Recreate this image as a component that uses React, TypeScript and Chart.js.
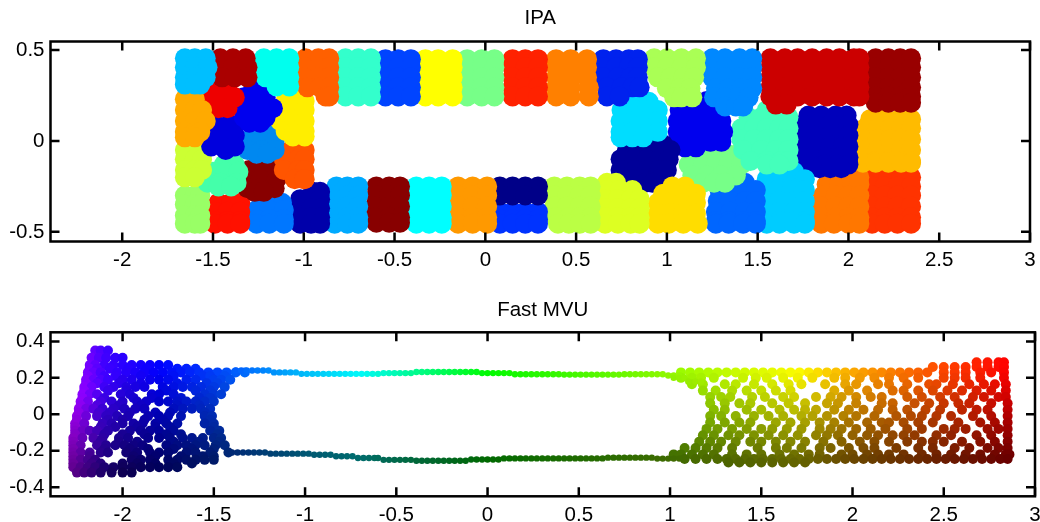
import React, { useEffect, useRef } from "react";
import { Chart, registerables } from "chart.js";

Chart.register(...registerables);

type Rows = number[][]; // each row: y, then the x values read at that y

const FONT = "'Liberation Sans', Arial, sans-serif";
const xTicks = [-2, -1.5, -1, -0.5, 0, 0.5, 1, 1.5, 2, 2.5, 3];
const ipaYTicks = [-0.5, 0, 0.5];
const mvuYTicks = [-0.4, -0.2, 0, 0.2, 0.4];

// IPA: one list per coloured cluster
const cA: Rows = [[.455,-1.655,-1.6,-1.54],[.405,-1.655,-1.6,-1.53],[.35,-1.655,-1.6,-1.54],[.31,-1.655,-1.6,-1.57]];
const cB: Rows = [[.455,-1.46,-1.39,-1.32],[.405,-1.46,-1.39,-1.31],[.35,-1.45,-1.38,-1.31]];
const cC: Rows = [[.455,-1.22,-1.15,-1.08],[.405,-1.22,-1.15,-1.08],[.35,-1.21,-1.15,-1.08],[.3,-1.15,-1.08]];
const cD: Rows = [[.455,-.99,-.92,-.86],[.405,-.99,-.92,-.86],[.35,-1,-.92,-.86],[.295,-.98,-.91,-.86],[.245,-.88,-.86]];
const cE: Rows = [[.455,-.77,-.7,-.63],[.405,-.77,-.7,-.63],[.35,-.77,-.7,-.63],[.295,-.77,-.7,-.63],[.245,-.77,-.7,-.63]];
const cF: Rows = [[.45,-.55,-.48,-.41],[.405,-.55,-.48,-.41],[.35,-.55,-.48,-.41],[.295,-.55,-.48,-.41],[.245,-.55,-.48,-.41]];
const cG: Rows = [[.45,-.33,-.26,-.18],[.405,-.33,-.26,-.18],[.35,-.33,-.26,-.18],[.295,-.33,-.26,-.18],[.245,-.33,-.26,-.18]];
const cH: Rows = [[.45,-.1,-.02,.05],[.405,-.1,-.02,.05],[.35,-.1,-.02,.05],[.295,-.1,-.02,.05],[.245,-.1,-.02,.05]];
const cI: Rows = [[.45,.15,.22,.29],[.405,.15,.22,.29],[.35,.15,.22,.29],[.295,.15,.22,.29],[.245,.15,.22,.29]];
const cJ: Rows = [[.45,.39,.47,.56],[.405,.39,.47,.56],[.35,.39,.47,.56],[.295,.39,.47,.57],[.245,.39,.47,.57]];
const cK: Rows = [[.45,.65,.72,.79,.84],[.405,.65,.72,.79,.84],[.35,.65,.73,.8,.84],[.295,.67,.75,.81,.85],[.245,.67,.74]];
const cL: Rows = [[.455,.93,1,1.08,1.16],[.405,.93,1,1.08,1.16],[.35,.95,1.02,1.09,1.15],[.29,1,1.07,1.13],[.24,1.04,1.08,1.14]];
const cM: Rows = [[.455,1.25,1.32,1.4,1.47],[.405,1.25,1.32,1.4,1.47],[.35,1.25,1.32,1.4,1.47],[.29,1.27,1.34,1.41,1.47],[.24,1.26,1.32,1.39,1.45],[.19,1.32,1.38,1.42]];
const cN: Rows = [[.455,1.57,1.65,1.72,1.8,1.88,1.95,2.03,2.06],[.405,1.57,1.65,1.72,1.8,1.88,1.95,2.03,2.06],[.35,1.57,1.65,1.72,1.8,1.88,1.95,2.03,2.06],[.295,1.57,1.65,1.72,1.8,1.88,1.95,2.03,2.06],[.245,1.57,1.65,1.72,1.8,1.88,1.95,2.03,2.06],[.2,1.6,1.66]];
const cO: Rows = [[.455,2.15,2.22,2.285,2.345],[.405,2.15,2.22,2.285,2.345],[.35,2.15,2.22,2.285,2.345],[.295,2.15,2.22,2.285,2.345],[.245,2.15,2.22,2.285,2.345],[.21,2.15,2.22,2.285,2.345]];
const cP: Rows = [[.23,-1.655,-1.6],[.17,-1.655,-1.6,-1.56],[.11,-1.655,-1.6,-1.54],[.05,-1.655,-1.6,-1.57],[.02,-1.655,-1.6]];
const cQ: Rows = [[.29,-1.5,-1.44,-1.42],[.24,-1.56,-1.49,-1.43,-1.38],[.18,-1.54,-1.47,-1.42]];
const cR: Rows = [[.28,-1.28,-1.23],[.24,-1.33,-1.27,-1.21],[.18,-1.34,-1.27,-1.2,-1.17],[.13,-1.33,-1.26,-1.21],[.1,-1.3,-1.24]];
const cS: Rows = [[.22,-1.1,-1.03,-.995],[.17,-1.12,-1.05,-.995],[.11,-1.13,-1.05,-.995],[.055,-1.1,-1.05,-.995],[.025,-1.06,-.995]];
const cT: Rows = [[.085,-1.48,-1.42,-1.38],[.03,-1.53,-1.45,-1.38],[-.03,-1.51,-1.45,-1.38],[-.05,-1.43]];
const cU: Rows = [[.05,-1.27,-1.2],[0,-1.32,-1.23,-1.16],[-.05,-1.31,-1.23,-1.16],[-.07,-1.26,-1.2]];
const cV: Rows = [[-.05,-1.07,-1,-.995],[-.1,-1.11,-1.03,-.995],[-.16,-1.11,-1.03,-.995],[-.21,-1.05,-1,-.995]];
const cW: Rows = [[-.05,-1.655,-1.6],[-.1,-1.655,-1.6,-1.56],[-.16,-1.655,-1.6,-1.56],[-.2,-1.655,-1.6]];
const cX: Rows = [[-.13,-1.44,-1.38],[-.17,-1.5,-1.43,-1.36],[-.23,-1.53,-1.46,-1.37],[-.25,-1.47,-1.4]];
const cY: Rows = [[-.16,-1.3,-1.22,-1.15],[-.21,-1.32,-1.24,-1.15],[-.26,-1.31,-1.24,-1.16],[-.28,-1.27,-1.22]];
const cZ: Rows = [[-.3,-1.655,-1.6,-1.57],[-.35,-1.655,-1.6,-1.57],[-.41,-1.655,-1.6,-1.57],[-.455,-1.655,-1.6,-1.57]];
const cAA: Rows = [[-.34,-1.47,-1.4,-1.35],[-.39,-1.49,-1.42,-1.35],[-.44,-1.49,-1.42,-1.35],[-.455,-1.49,-1.42,-1.35]];
const cAB: Rows = [[-.34,-1.23,-1.18,-1.12],[-.38,-1.26,-1.19,-1.11],[-.43,-1.26,-1.19,-1.11],[-.455,-1.26,-1.19,-1.11]];
const cAC: Rows = [[-.28,-.95,-.91],[-.32,-1.02,-.96,-.91],[-.37,-1.03,-.96,-.91],[-.42,-1.03,-.96,-.91],[-.455,-1.02,-.96,-.91]];
const cAD: Rows = [[-.25,-.82,-.76,-.7],[-.3,-.83,-.76,-.7],[-.36,-.83,-.76,-.7],[-.42,-.83,-.76,-.7],[-.455,-.83,-.76,-.7]];
const cAE: Rows = [[-.25,-.6,-.53,-.47],[-.3,-.6,-.53,-.47],[-.36,-.61,-.53,-.47],[-.42,-.61,-.53,-.47],[-.45,-.6,-.53,-.47]];
const cAF: Rows = [[-.25,-.38,-.31,-.24],[-.3,-.38,-.31,-.24],[-.36,-.38,-.31,-.24],[-.42,-.38,-.31,-.24],[-.455,-.38,-.31,-.24]];
const cAG: Rows = [[-.25,-.15,-.07,.01],[-.3,-.15,-.07,.01],[-.36,-.15,-.07,.01],[-.42,-.15,-.07,.01],[-.455,-.15,-.07,.01]];
const cAH: Rows = [[-.25,.08,.15,.22,.29],[-.3,.08,.15,.22,.29]];
const cAI: Rows = [[-.39,.08,.15,.22,.29],[-.43,.08,.15,.22,.29],[-.455,.08,.15,.22,.29]];
const cAJ: Rows = [[-.25,.38,.45,.52,.58],[-.3,.38,.45,.52,.58],[-.36,.38,.45,.52,.58],[-.42,.39,.46,.52,.58],[-.455,.4,.46,.52,.58]];
const cAK: Rows = [[-.23,.67,.72],[-.27,.67,.74,.81],[-.32,.66,.73,.8,.85],[-.37,.66,.73,.8,.85],[-.42,.66,.73,.8,.85],[-.455,.66,.73,.8,.85]];
const cAL: Rows = [[-.25,1.03,1.1],[-.29,.98,1.04,1.11,1.16],[-.34,.95,1.01,1.09,1.16],[-.4,.95,1.01,1.09,1.16],[-.455,.95,1.01,1.09,1.17]];
const cAM: Rows = [[.215,.84,.9],[.17,.75,.82,.89,.95],[.11,.745,.81,.88,.95],[.05,.745,.81,.88,.95],[.02,.745,.81,.87]];
const cAN: Rows = [[-.02,.93,.98],[-.05,.78,.85,.92,.99,1.02],[-.1,.745,.82,.89,.96,1.01],[-.16,.745,.82,.89,.96,1],[-.21,.8,.87,.94],[-.23,.88,.92]];
const cAO: Rows = [[.22,1.16,1.22],[.17,1.07,1.14,1.21,1.28],[.11,1.06,1.12,1.2,1.27,1.3],[.05,1.06,1.12,1.2,1.27,1.31],[-.005,1.06,1.11,1.18,1.24,1.3],[-.035,1.1,1.16]];
const cAP: Rows = [[.17,1.55,1.6],[.13,1.45,1.52,1.6,1.67],[.07,1.41,1.48,1.55,1.62,1.67],[.01,1.41,1.48,1.55,1.62,1.67],[-.05,1.42,1.52,1.6,1.67],[-.11,1.46,1.55,1.63,1.67],[-.13,1.55,1.62]];
const cAQ: Rows = [[-.03,1.2,1.26,1.3],[-.07,1.14,1.18,1.25,1.33,1.39],[-.13,1.12,1.2,1.27,1.34,1.41],[-.19,1.14,1.22,1.3,1.38],[-.23,1.2,1.26,1.32]];
const cAR: Rows = [[-.23,1.32,1.38,1.43],[-.27,1.29,1.37,1.44,1.49],[-.33,1.28,1.35,1.43,1.49],[-.39,1.27,1.35,1.43,1.49],[-.44,1.27,1.34,1.42,1.49],[-.455,1.27,1.34,1.42,1.49]];
const cAS: Rows = [[-.17,1.58,1.63,1.7],[-.21,1.55,1.62,1.7,1.76],[-.27,1.54,1.61,1.69,1.76],[-.33,1.54,1.62,1.7,1.76],[-.39,1.55,1.62,1.7,1.76],[-.44,1.55,1.62,1.7,1.76],[-.455,1.55,1.62,1.7,1.76]];
const cAT: Rows = [[.14,1.78,1.85,1.93,1.99],[.09,1.75,1.82,1.9,1.97,2],[.03,1.75,1.82,1.9,1.97,2],[-.03,1.75,1.82,1.9,1.97,2],[-.09,1.74,1.8,1.88,1.95,2],[-.13,1.78,1.87,1.94,2],[-.15,1.84,1.9,1.96]];
const cAU: Rows = [[.12,2.12,2.2,2.28,2.345],[.07,2.09,2.16,2.23,2.29,2.345],[.01,2.09,2.16,2.23,2.29,2.345],[-.05,2.09,2.16,2.23,2.29,2.345],[-.11,2.08,2.15,2.22,2.29,2.345],[-.12,2.08,2.15,2.22,2.29,2.345]];
const cAV: Rows = [[-.2,1.94,2,2.06],[-.24,1.88,1.95,2.02,2.06],[-.3,1.86,1.93,2,2.06],[-.36,1.85,1.93,2,2.06],[-.42,1.85,1.93,2,2.06],[-.455,1.85,1.92,2,2.06]];
const cAW: Rows = [[-.2,2.14,2.22,2.29,2.345],[-.25,2.13,2.2,2.27,2.345],[-.3,2.13,2.2,2.27,2.345],[-.36,2.13,2.2,2.27,2.345],[-.42,2.13,2.2,2.27,2.345],[-.455,2.13,2.2,2.27,2.345]];

const ipaClusters: Rows[] = [cA,cB,cC,cD,cE,cF,cG,cH,cI,cJ,cK,cL,cM,cN,cO,cP,cQ,cR,cS,cT,cU,cV,cW,cX,cY,cZ,cAA,cAB,cAC,cAD,cAE,cAF,cAG,cAH,cAI,cAJ,cAK,cAL,cAM,cAN,cAO,cAP,cAQ,cAR,cAS,cAT,cAU,cAV,cAW];
const ipaColors = ["#00bfff","#aa0000","#00ffee","#ff6000","#33ffcc","#0044ff","#ffff00","#77ff88","#ff2200","#ff8000","#0022ee","#aaff55","#0088ff","#cc0000","#990000","#ffaa00","#ee0000","#0000ee","#ffee00","#0000dd","#0088f0","#ff5500","#ccff33","#44ffaa","#880000","#99ff66","#ff1100","#0077ff","#0000aa","#00aaff","#880000","#00ffff","#ff9900","#000088","#0033ff","#bbff44","#ddff22","#ffdd00","#00ddff","#000099","#0000ee","#44ffbb","#77ff88","#0066ff","#00ccff","#0000bb","#ffbb00","#ff7700","#ff3300"];

// Fast MVU
const mvuTopStrip: Rows = [
  [.24,-1.38,-1.35,-1.32,-1.29,-1.26,-1.23,-1.2],
  [.23,-1.17,-1.14,-1.11,-1.08,-1.05],
  [.222,-1.02,-.99,-.96,-.93,-.9,-.87,-.84,-.81,-.78,-.75,-.72,-.69,-.66,-.63,-.6],
  [.226,-.57,-.54,-.51,-.48,-.45,-.42],
  [.232,-.39,-.36,-.33,-.3,-.27,-.24,-.21,-.18,-.15,-.12,-.09,-.06],
  [.226,-.03,0,.03,.06,.09,.12],
  [.22,.15,.18,.21,.24,.27,.3,.33,.36,.39],
  [.218,.42,.45,.48,.51,.54,.57,.6,.63,.66,.69,.72],
  [.22,.75,.78,.81,.84,.87,.9,.93,.96],
  [.213,.99,1.02,1.05],
  [.2,1.02,1.05,1.08],
  [.18,1.1,1.14,1.17],
];
const mvuBottomStrip: Rows = [
  [-.21,-1.4,-1.37,-1.34,-1.31,-1.28,-1.25,-1.22],
  [-.216,-1.19,-1.16,-1.13,-1.1,-1.07,-1.04,-1.01,-.98],
  [-.222,-.95,-.92,-.89,-.86],
  [-.23,-.83,-.8,-.77,-.74],
  [-.24,-.71,-.68,-.65,-.62,-.6],
  [-.25,-.57,-.54,-.51,-.48,-.45,-.42],
  [-.255,-.39,-.36,-.33,-.3,-.27,-.24,-.21,-.18,-.15,-.12],
  [-.248,-.09,-.06,-.03,0,.03,.06],
  [-.242,.09,.12,.15,.18,.21,.24,.27,.3,.33,.36,.39,.42,.45,.48,.51,.54,.57,.6,.63],
  [-.238,.66,.69,.72,.75,.78,.81,.84,.87,.9],
  [-.243,.93,.96,.99,1.02,1.05],
];
const mvuLeftBody: Rows = [
  [.35,-2.15,-2.12,-2.08],
  [.31,-2.17,-2.13,-2.09,-2.04,-2],
  [.27,-2.18,-2.15,-2.1,-2.05,-2,-1.95,-1.9,-1.85,-1.8,-1.75],
  [.25,-2.18,-2.14,-2.07,-1.97,-1.87,-1.7,-1.65,-1.6],
  [.23,-2.19,-2.16,-2.12,-2.03,-1.98,-1.93,-1.88,-1.83,-1.78,-1.73,-1.68,-1.63,-1.58,-1.53,-1.48,-1.43,-1.38,-1.33],
  [.21,-2.19,-2.1,-2.04,-1.9,-1.72,-1.56,-1.52,-1.44],
  [.19,-2.2,-2.16,-2.12,-2.08,-2,-1.95,-1.85,-1.8,-1.75,-1.65,-1.6,-1.5,-1.46,-1.41],
  [.17,-2.2,-2.14,-2.02,-1.9,-1.7,-1.54,-1.48],
  [.15,-2.21,-2.17,-2.1,-2.05,-1.98,-1.93,-1.88,-1.78,-1.72,-1.67,-1.62,-1.57,-1.5,-1.44],
  [.13,-2.21,-2.08,-1.98,-1.76,-1.6,-1.52],
  [.11,-2.22,-2.18,-2.14,-2.01,-1.96,-1.84,-1.8,-1.72,-1.55,-1.5,-1.46],
  [.09,-2.22,-2.1,-1.94,-1.84,-1.68,-1.58,-1.52],
  [.07,-2.23,-2.19,-2.12,-2.06,-2,-1.92,-1.87,-1.8,-1.75,-1.7,-1.65,-1.6,-1.55,-1.5],
  [.05,-2.23,-2.14,-2.02,-1.9,-1.7,-1.58],
  [.03,-2.24,-2.2,-2.16,-2.11,-2.05,-1.99,-1.93,-1.88,-1.72,-1.67,-1.62,-1.57,-1.52],
  [.01,-2.24,-2.13,-2.07,-1.96,-1.82,-1.74,-1.55],
  [-.01,-2.25,-2.2,-2.14,-2.09,-2.03,-1.97,-1.86,-1.8,-1.75,-1.68,-1.55,-1.51],
  [-.03,-2.25,-2.08,-2,-1.88,-1.78,-1.52],
  [-.05,-2.26,-2.21,-2.11,-2.06,-2,-1.94,-1.89,-1.82,-1.76,-1.7,-1.55,-1.5],
  [-.07,-2.26,-2.12,-2.04,-1.92,-1.82,-1.74,-1.5],
  [-.09,-2.26,-2.22,-2.18,-2.14,-2.08,-1.96,-1.9,-1.85,-1.8,-1.72,-1.52,-1.47],
  [-.11,-2.26,-2.1,-2,-1.88,-1.76,-1.68,-1.48],
  [-.13,-2.27,-2.22,-2.16,-2.11,-2.02,-1.97,-1.86,-1.8,-1.74,-1.67,-1.62,-1.56,-1.5,-1.46],
  [-.15,-2.27,-2.12,-2.02,-1.92,-1.72,-1.58,-1.47],
  [-.17,-2.27,-2.23,-2.14,-2.09,-2.04,-1.99,-1.94,-1.89,-1.76,-1.7,-1.65,-1.6,-1.55,-1.49,-1.44],
  [-.19,-2.27,-2.1,-1.96,-1.86,-1.72,-1.62,-1.5],
  [-.21,-2.27,-2.23,-2.18,-2.12,-2.08,-1.98,-1.92,-1.85,-1.8,-1.75,-1.65,-1.6,-1.52,-1.42],
  [-.23,-2.27,-2.18,-1.94,-1.82,-1.68,-1.56,-1.5],
  [-.25,-2.27,-2.23,-2.19,-2.15,-1.95,-1.9,-1.85,-1.75,-1.7,-1.65,-1.6,-1.55,-1.5],
  [-.27,-2.27,-2.17,-2.12,-2.0,-1.92,-1.82,-1.72,-1.62],
  [-.29,-2.27,-2.23,-2.19,-2.15,-2.1,-2.05,-2,-1.95,-1.9,-1.85,-1.8,-1.75,-1.7],
  [-.32,-2.25,-2.21,-2.17,-2.12,-2.06,-2,-1.95],
];
const mvuRightBody: Rows = [
  [.285,2.68,2.74,2.8,2.83],
  [.26,2.44,2.5,2.56,2.62,2.68,2.74,2.8,2.83],
  [.23,1.06,1.11,1.16,1.21,1.26,1.31,1.36,1.41,1.46,1.51,1.56,1.61,1.66,1.71,1.76,1.81,1.86,1.91,1.96,2.01,2.06,2.11,2.16,2.21,2.26,2.31,2.36,2.41,2.5,2.56,2.62,2.7,2.76,2.83],
  [.2,1.06,1.12,1.17,1.24,1.4,1.47,1.53,1.62,1.7,1.78,1.9,1.96,2.04,2.12,2.2,2.28,2.36,2.5,2.56,2.62,2.7,2.83],
  [.165,1.12,1.18,1.3,1.36,1.46,1.56,1.65,1.72,1.85,1.96,2.02,2.14,2.2,2.3,2.42,2.46,2.55,2.64,2.72,2.78,2.84],
  [.13,1.18,1.25,1.34,1.42,1.5,1.58,1.66,1.9,1.98,2.08,2.22,2.28,2.36,2.44,2.52,2.6,2.68,2.76,2.84],
  [.095,1.22,1.28,1.33,1.45,1.52,1.62,1.68,1.8,1.88,1.94,2.02,2.1,2.16,2.3,2.38,2.48,2.56,2.66,2.72,2.8,2.84],
  [.06,1.22,1.3,1.38,1.44,1.56,1.65,1.74,1.86,1.92,2.02,2.16,2.22,2.34,2.42,2.5,2.58,2.64,2.76,2.85],
  [.025,1.24,1.3,1.42,1.5,1.6,1.68,1.74,1.8,1.9,1.98,2.06,2.14,2.22,2.3,2.4,2.48,2.6,2.68,2.74,2.85],
  [-.01,1.22,1.28,1.36,1.46,1.54,1.62,1.72,1.78,1.86,1.95,2.02,2.12,2.24,2.32,2.38,2.46,2.54,2.66,2.76,2.85],
  [-.045,1.22,1.3,1.38,1.44,1.58,1.66,1.74,1.82,1.9,1.98,2.08,2.16,2.2,2.28,2.36,2.44,2.58,2.7,2.78,2.85],
  [-.08,1.2,1.26,1.34,1.42,1.5,1.56,1.64,1.72,1.82,1.88,1.94,2.02,2.1,2.18,2.3,2.38,2.5,2.56,2.62,2.74,2.8,2.85],
  [-.115,1.18,1.24,1.32,1.38,1.46,1.54,1.62,1.7,1.8,1.86,1.92,2,2.08,2.14,2.22,2.28,2.34,2.46,2.54,2.68,2.76,2.85],
  [-.15,1.16,1.22,1.28,1.36,1.44,1.5,1.58,1.66,1.74,1.84,1.94,2.04,2.12,2.2,2.3,2.38,2.44,2.5,2.6,2.7,2.78,2.85],
  [-.185,1.08,1.14,1.2,1.26,1.34,1.48,1.58,1.64,1.72,1.82,1.88,1.98,2.06,2.12,2.24,2.36,2.44,2.56,2.64,2.74,2.8,2.85],
  [-.22,1.02,1.06,1.12,1.18,1.24,1.34,1.42,1.5,1.6,1.68,1.76,1.82,1.94,2,2.08,2.14,2.2,2.28,2.38,2.46,2.54,2.62,2.7,2.78,2.84,2.86],
  [-.245,1.08,1.14,1.2,1.26,1.31,1.36,1.41,1.46,1.51,1.56,1.61,1.66,1.71,1.76,1.81,1.86,1.91,1.96,2.01,2.06,2.11,2.16,2.21,2.26,2.31,2.36,2.41,2.46,2.51,2.56,2.61,2.66,2.71,2.76,2.81,2.85],
  [-.265,1.32,1.38,1.44,1.5,1.56,1.62,1.68,1.74],
];

const toPoints = (rows: Rows) => rows.flatMap(([y, ...xs]) => xs.map((x) => ({ x, y })));

// colour of a Fast MVU point: hue follows x, brightness follows y
const hueStops = [[-2.3,285],[-2.1,255],[-1.5,225],[-1,195],[-.7,180],[0,120],[1,85],[1.7,60],[2,40],[2.85,0]];
function mvuColor(ctx: any) {
  const p = ctx.raw;
  if (!p) return "#000";
  let h = hueStops[0][1];
  for (let i = 0; i < hueStops.length - 1; i++) {
    const [a, ha] = hueStops[i];
    const [b, hb] = hueStops[i + 1];
    if (p.x >= a && p.x <= b) h = ha + ((p.x - a) / (b - a)) * (hb - ha);
  }
  if (p.x > 2.85) h = 0;
  const lift = Math.max(0, -2 - p.x) * 0.8;
  const v = Math.min(1, Math.max(0.3, 0.35 + (p.y + 0.3) * 1.2 + lift));
  return `hsl(${h}, 100%, ${v * 50}%)`;
}

const framePlugin = {
  id: "frame",
  afterDraw(chart: any) {
    const { ctx, chartArea: a, scales } = chart;
    ctx.save();
    ctx.strokeStyle = "#000";
    ctx.lineWidth = 2.5;
    ctx.strokeRect(a.left, a.top, a.right - a.left, a.bottom - a.top);
    ctx.beginPath();
    for (const t of scales.x.ticks) {
      const px = scales.x.getPixelForValue(t.value);
      ctx.moveTo(px, a.bottom); ctx.lineTo(px, a.bottom - 9);
      ctx.moveTo(px, a.top); ctx.lineTo(px, a.top + 9);
    }
    for (const t of scales.y.ticks) {
      const py = scales.y.getPixelForValue(t.value);
      ctx.moveTo(a.left, py); ctx.lineTo(a.left + 9, py);
      ctx.moveTo(a.right, py); ctx.lineTo(a.right - 9, py);
    }
    ctx.stroke();
    ctx.restore();
  },
};

function makeOptions(title: string, yMin: number, yMax: number, yTicks: number[], xHeight: number, xPad: number, pad: { top: number; bottom: number }) {
  const font = { family: FONT, size: 20.5, lineHeight: 1.2 };
  return {
    responsive: false,
    animation: false as const,
    layout: { padding: { left: 0, right: 4.5, top: 0, bottom: 0 } },
    plugins: {
      legend: { display: false },
      tooltip: { enabled: false },
      title: { display: true, text: title, color: "#000", font: { ...font, weight: "normal" as const }, padding: pad, fullSize: false },
    },
    scales: {
      x: {
        type: "linear" as const,
        min: -2.395,
        max: 3,
        grid: { display: false, drawTicks: false },
        border: { display: false },
        afterBuildTicks: (s: any) => { s.ticks = xTicks.map((value) => ({ value })); },
        afterFit: (s: any) => { s.height = xHeight; s.paddingLeft = 0; s.paddingRight = 0; },
        ticks: { color: "#000", font, padding: xPad, autoSkip: false, maxRotation: 0, callback: (v: any) => String(v) },
      },
      y: {
        type: "linear" as const,
        min: yMin,
        max: yMax,
        grid: { display: false, drawTicks: false },
        border: { display: false },
        afterBuildTicks: (s: any) => { s.ticks = yTicks.map((value) => ({ value })); },
        afterFit: (s: any) => { s.width = 50.5; s.paddingTop = 0; s.paddingBottom = 0; },
        ticks: { color: "#000", font, padding: 6, autoSkip: false, callback: (v: any) => String(v) },
      },
    },
  };
}

export default function App() {
  const topRef = useRef<HTMLCanvasElement>(null);
  const bottomRef = useRef<HTMLCanvasElement>(null);

  useEffect(() => {
    const ipa = new Chart(topRef.current!, {
      type: "scatter",
      data: {
        datasets: ipaClusters.map((rows, i) => ({
          data: toPoints(rows),
          backgroundColor: ipaColors[i],
          borderWidth: 0,
          pointRadius: 10,
        })),
      },
      options: makeOptions("IPA", -0.553, 0.547, ipaYTicks, 28.5, 6.2, { top: 5.7, bottom: 11.2 }) as any,
      plugins: [framePlugin],
    });
    const mvu = new Chart(bottomRef.current!, {
      type: "scatter",
      data: {
        datasets: [
          { data: toPoints(mvuTopStrip), pointRadius: 3.2, borderWidth: 0, backgroundColor: mvuColor },
          { data: toPoints(mvuBottomStrip), pointRadius: 3.2, borderWidth: 0, backgroundColor: mvuColor },
          { data: toPoints(mvuLeftBody), pointRadius: 5, borderWidth: 0, backgroundColor: mvuColor },
          { data: toPoints(mvuRightBody), pointRadius: 5, borderWidth: 0, backgroundColor: mvuColor },
        ],
      },
      options: makeOptions("Fast MVU", -0.45, 0.45, mvuYTicks, 25.7, 6.4, { top: 27.7, bottom: 10 }) as any,
      plugins: [framePlugin],
    });
    return () => { ipa.destroy(); mvu.destroy(); };
  }, []);

  return (
    <div style={{ position: "fixed", left: 0, top: 0, width: 1040, height: 522, background: "#fff" }}>
      <canvas ref={topRef} width={1040} height={270} style={{ position: "absolute", left: 0, top: 0, display: "block" }} />
      <canvas ref={bottomRef} width={1040} height={252} style={{ position: "absolute", left: 0, top: 270, display: "block" }} />
    </div>
  );
}
